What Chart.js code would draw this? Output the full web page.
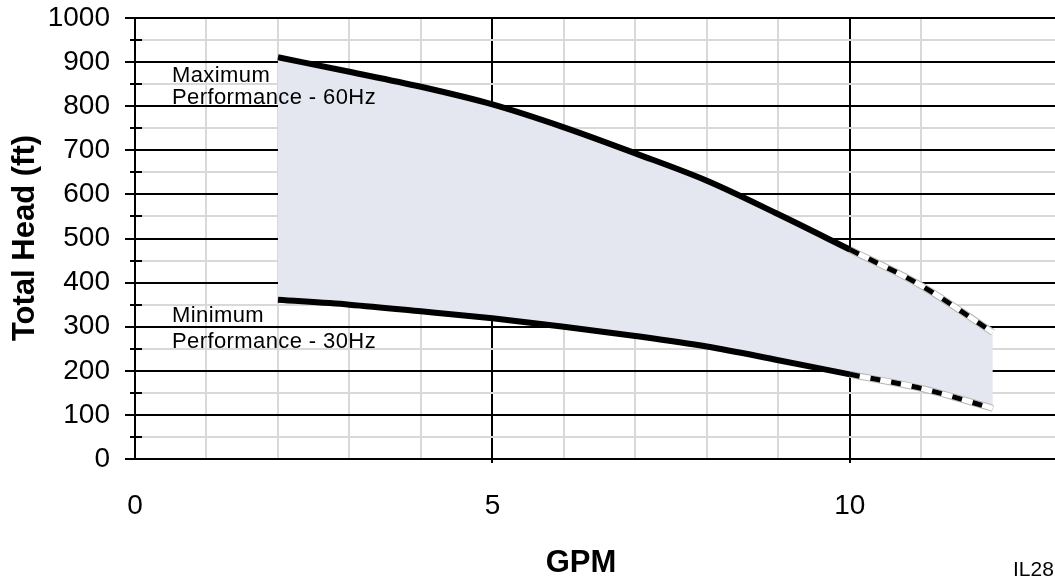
<!DOCTYPE html>
<html>
<head>
<meta charset="utf-8">
<script src="https://cdn.jsdelivr.net/npm/chart.js@4.4.1/dist/chart.umd.min.js"></script>
<style>
  html, body { margin: 0; padding: 0; background: #fff; }
  #wrap { width: 1055px; height: 578px; }
</style>
</head>
<body>
<div id="wrap"><canvas id="chart" width="1055" height="578"></canvas></div>
<script>
// ─── Data ─────────────────────────────────────────────
const gpm        = [2, 3, 4, 5, 6, 7, 8, 9, 10, 11, 12];
const maxHead60  = [911, 878, 844, 804, 752, 693, 631, 555, 475, 393, 287];
const minHead30  = [361, 350, 335, 319, 300, 279, 255, 224, 192, 160, 115];
const ratedLimit = 10;                       // curves turn dashed past this flow
const xTickLabels = [0, 5, 10];
const yTickLabels = [0, 100, 200, 300, 400, 500, 600, 700, 800, 900, 1000];
const maxLabel = ['Maximum', 'Performance - 60Hz'];
const minLabel = ['Minimum', 'Performance - 30Hz'];

// ─── Helpers ──────────────────────────────────────────
const FONT = '"Liberation Sans", Arial, sans-serif';
const toPoints = (xs, ys) => xs.map((x, i) => ({ x, y: ys[i] }));
const solidPart  = pts => pts.filter(p => p.x <= ratedLimit);
const dashedPart = pts => pts.filter(p => p.x >= ratedLimit);

const upperPts = toPoints(gpm, maxHead60);
const lowerPts = toPoints(gpm, minHead30);

const lineBase = { pointRadius: 0, fill: false, cubicInterpolationMode: 'monotone', borderCapStyle: 'butt' };

function dashedSet(pts) {
    return [
        { ...lineBase, data: pts, borderColor: '#b5b5b5', borderWidth: 7, order: 6 },
        { ...lineBase, data: pts, borderColor: '#ffffff', borderWidth: 5, order: 5 },
        { ...lineBase, data: pts, borderColor: '#000000', borderWidth: 5, borderDash: [10, 11], order: 4 },
    ];
}

// no extra room for overflowing tick labels: the plot fills the frame
const noOverflow = s => { s.paddingTop = 0; s.paddingBottom = 0; s.paddingLeft = 0; s.paddingRight = 0; };

// ─── Overlay text + minor ticks ───────────────────────
const overlay = {
    id: 'overlay',
    afterDraw(chart) {
        const ctx = chart.ctx;
        const y = chart.scales.y;
        const left = chart.chartArea.left;

        // minor ticks at the half-hundreds
        ctx.save();
        ctx.strokeStyle = '#000';
        ctx.lineWidth = 2;
        y.ticks.forEach(t => {
            if (t.value % 100 === 0) return;
            const py = Math.round(y.getPixelForValue(t.value));
            ctx.beginPath();
            ctx.moveTo(left - 5, py);
            ctx.lineTo(left + 7, py);
            ctx.stroke();
        });
        ctx.restore();

        // curve labels
        ctx.save();
        ctx.fillStyle = '#000';
        ctx.font = `22px ${FONT}`;
        ctx.textAlign = 'left';
        ctx.textBaseline = 'alphabetic';
        if ('letterSpacing' in ctx) ctx.letterSpacing = '0.4px';
        ctx.fillText(maxLabel[0], 172, 82);
        ctx.fillText(maxLabel[1], 172, 104);
        ctx.fillText(minLabel[0], 172, 322);
        ctx.fillText(minLabel[1], 172, 348);
        ctx.restore();

        // axis titles
        ctx.save();
        ctx.fillStyle = '#000';
        ctx.font = `bold 31px ${FONT}`;
        ctx.textAlign = 'center';
        ctx.textBaseline = 'alphabetic';
        ctx.fillText('GPM', 581, 572);
        ctx.translate(34, 238);
        ctx.rotate(-Math.PI / 2);
        ctx.fillText('Total Head (ft)', 0, 0);
        ctx.restore();

        // figure id
        ctx.save();
        ctx.fillStyle = '#000';
        ctx.font = `21px ${FONT}`;
        ctx.textAlign = 'left';
        ctx.fillText('IL28', 1013, 576);
        ctx.restore();
    }
};

// ─── Chart ────────────────────────────────────────────
new Chart(document.getElementById('chart'), {
    type: 'line',
    data: {
        datasets: [
            // shaded operating range
            { ...lineBase, data: upperPts, borderWidth: 0, fill: '+1', backgroundColor: '#e4e7ef', order: 10 },
            { ...lineBase, data: lowerPts, borderWidth: 0, order: 11 },
            // dashed extensions
            ...dashedSet(dashedPart(upperPts)),
            ...dashedSet(dashedPart(lowerPts)),
            // solid rated curves
            { ...lineBase, data: solidPart(upperPts), borderColor: '#000', borderWidth: 6, order: 1 },
            { ...lineBase, data: solidPart(lowerPts), borderColor: '#000', borderWidth: 6, order: 1 },
        ],
    },
    options: {
        responsive: false,
        devicePixelRatio: 1,
        animation: false,
        layout: { padding: { top: 18, right: 0, left: 0, bottom: 0 } },
        plugins: { legend: { display: false }, tooltip: { enabled: false } },
        scales: {
            x: {
                type: 'linear',
                min: 0,
                max: 12.87,
                afterBuildTicks: s => { s.ticks = s.ticks.filter(t => Number.isInteger(t.value)); },
                afterFit: s => { s.height = 119; noOverflow(s); },
                ticks: {
                    stepSize: 1,
                    autoSkip: false,
                    maxRotation: 0,
                    padding: 26,
                    color: '#000',
                    font: { family: FONT, size: 28 },
                    callback: v => xTickLabels.includes(v) ? String(v) : '',
                },
                grid: {
                    lineWidth: 2,
                    tickLength: 4,
                    color: c => (c.tick && (c.tick.value === 5 || c.tick.value === 10)) ? '#000' : '#d9d9d9',
                    tickColor: c => (c.tick && (c.tick.value === 5 || c.tick.value === 10)) ? '#000' : 'rgba(0,0,0,0)',
                },
                border: { color: '#000', width: 2 },
            },
            y: {
                min: 0,
                max: 1000,
                afterFit: s => { s.width = 135; noOverflow(s); },
                ticks: {
                    stepSize: 50,
                    autoSkip: false,
                    padding: 15,
                    color: '#000',
                    font: { family: FONT, size: 28 },
                    callback: v => yTickLabels.includes(v) ? String(v) : '',
                },
                grid: {
                    lineWidth: 2,
                    tickLength: 10,
                    color: c => (c.tick && c.tick.value % 100 === 0) ? '#000' : '#d9d9d9',
                    tickColor: c => (c.tick && c.tick.value % 100 === 0) ? '#000' : 'rgba(0,0,0,0)',
                },
                border: { color: '#000', width: 2 },
            },
        },
    },
    plugins: [overlay],
});
</script>
</body>
</html>
